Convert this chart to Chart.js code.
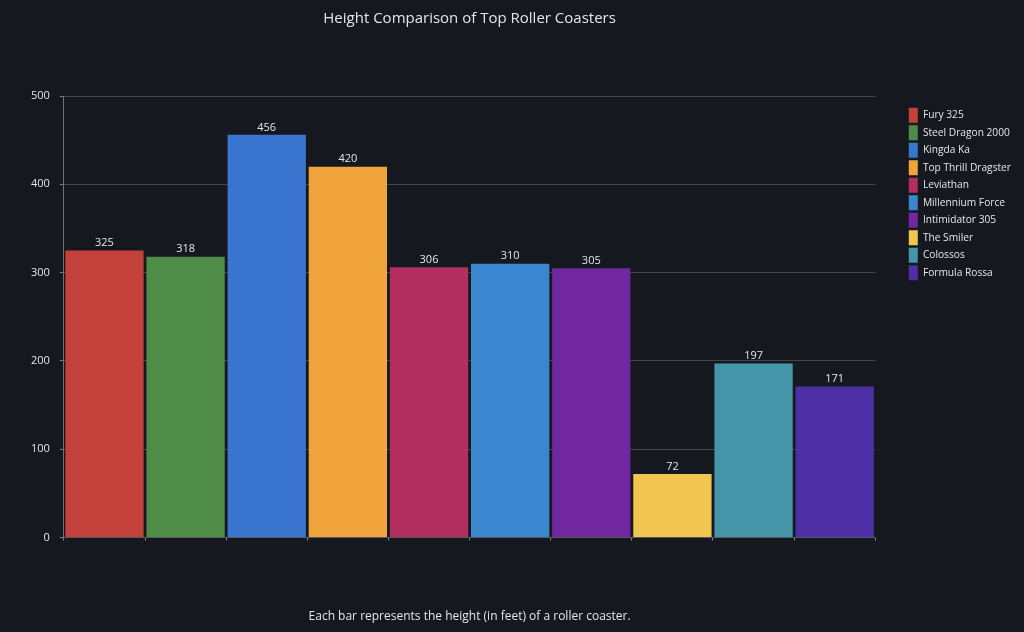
<!DOCTYPE html>
<html><head><meta charset="utf-8">
<script src="https://cdn.jsdelivr.net/npm/chart.js@4"></script>
<style>html,body{margin:0;padding:0;background:#16181f;}#wrap{width:1024px;height:632px;}</style>
</head><body><div id="wrap"><canvas id="c"></canvas></div>
<script>
const coasters = ["Fury 325","Steel Dragon 2000","Kingda Ka","Top Thrill Dragster","Leviathan","Millennium Force","Intimidator 305","The Smiler","Colossos","Formula Rossa"];
const heights = [325,318,456,420,306,310,305,72,197,171];
const barColors = ["#c4403a","#4f8c48","#3a75cf","#f1a43c","#b12e5e","#3b87cf","#7127a0","#f2c551","#4496a8","#4f2fa5"];
const yTicks = [0,100,200,300,400,500];

const textColor = "#e6e6e6";
const fontFamily = "'Open Sans', sans-serif";

const valueLabels = {
  id: 'valueLabels',
  afterDatasetsDraw(chart) {
    const ctx = chart.ctx;
    const meta = chart.getDatasetMeta(0);
    ctx.save();
    ctx.font = "11px " + fontFamily;
    ctx.fillStyle = textColor;
    ctx.textAlign = "center";
    ctx.textBaseline = "bottom";
    meta.data.forEach((bar, i) => {
      ctx.fillText(String(heights[i]), bar.x, bar.y - 2);
    });
    ctx.restore();
  }
};

new Chart(document.getElementById('c'), {
  type: 'bar',
  data: {
    labels: coasters,
    datasets: [{
      label: 'Height (ft)',
      data: heights,
      backgroundColor: barColors,
      borderWidth: 0,
      barPercentage: 0.965,
      categoryPercentage: 1.0
    }]
  },
  options: {
    responsive: true,
    maintainAspectRatio: false,
    animation: false,
    layout: { padding: { left: 21, right: 3, top: 0, bottom: 0 } },
    plugins: {
      title: {
        display: true,
        fullSize: false,
        text: 'Height Comparison of Top Roller Coasters',
        color: textColor,
        font: { family: fontFamily, size: 15, weight: 'normal' },
        padding: { top: 10, bottom: 68 }
      },
      subtitle: {
        display: true,
        fullSize: false,
        position: 'bottom',
        text: 'Each bar represents the height (in feet) of a roller coaster.',
        color: textColor,
        font: { family: fontFamily, size: 12, weight: 'normal' },
        padding: { top: 69, bottom: 8 }
      },
      legend: {
        position: 'right',
        align: 'start',
        fullSize: false,
        title: {
          display: true,
          text: ' ',
          font: { family: fontFamily, size: 6 },
          padding: { top: 1, bottom: 1 }
        },
        labels: {
          color: textColor,
          font: { family: fontFamily, size: 10.2 },
          boxWidth: 9,
          boxHeight: 15,
          padding: 2.5,
          generateLabels(chart) {
            return coasters.map((name, i) => ({
              text: name,
              fillStyle: barColors[i],
              strokeStyle: barColors[i],
              lineWidth: 0,
              fontColor: textColor,
              hidden: false,
              index: i
            }));
          }
        },
        onClick: () => {}
      },
      tooltip: { enabled: false }
    },
    scales: {
      x: {
        offset: true,
        ticks: { display: false },
        grid: { display: true, drawOnChartArea: false, offset: true, color: 'rgba(200,200,200,0.6)', tickLength: 3 },
        border: { display: true, color: 'rgba(200,200,200,0.15)' }
      },
      y: {
        min: 0,
        max: 500,
        afterBuildTicks(axis) { axis.ticks = yTicks.map(v => ({ value: v })); },
        ticks: { color: textColor, font: { family: fontFamily, size: 11 }, padding: 10 },
        grid: { color: 'rgba(255,255,255,0.2)', tickLength: 4, tickColor: 'rgba(200,200,200,0.6)' },
        border: { display: true, color: 'rgba(200,200,200,0.5)' }
      },
      gap: {
        position: 'right',
        display: true,
        ticks: { display: false },
        grid: { display: false },
        border: { display: false },
        afterFit(axis) { axis.width = 31; }
      }
    }
  },
  plugins: [valueLabels]
});
</script></body></html>
